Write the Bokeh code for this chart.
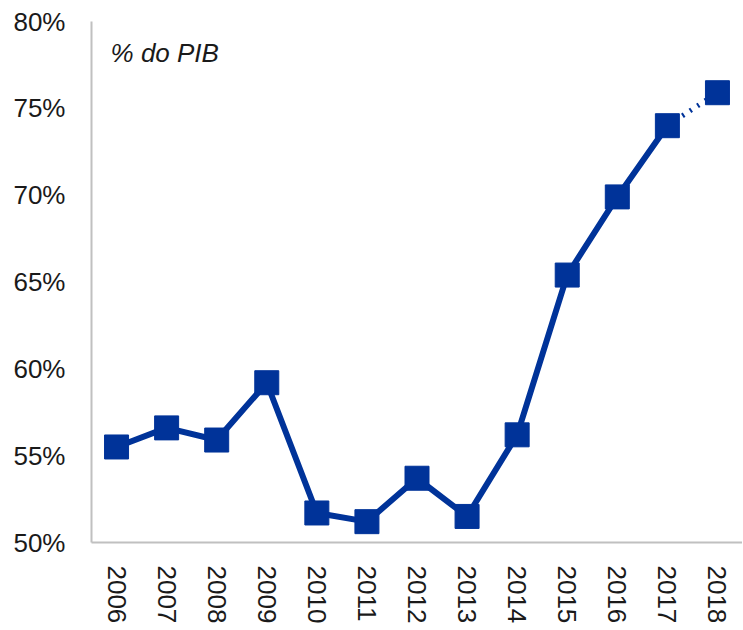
from bokeh.plotting import figure
from bokeh.models import FactorRange, FixedTicker, PrintfTickFormatter, Range1d
from bokeh.core.properties import value
from bokeh.embed import file_html
from bokeh.resources import INLINE

years = ["2006", "2007", "2008", "2009", "2010", "2011", "2012",
         "2013", "2014", "2015", "2016", "2017", "2018"]
debt = [55.5, 56.6, 55.9, 59.2, 51.7, 51.2, 53.7, 51.5, 56.2, 65.4, 69.9, 74.0, 75.9]
y_ticks = [50, 55, 60, 65, 70, 75, 80]
unit_label = "% do PIB"

BLUE = "#003399"
FONT = "Liberation Sans"

p = figure(x_range=FactorRange(factors=years, range_padding=0),
           y_range=Range1d(50, 80),
           width=742, height=629, output_backend="svg", toolbar_location=None,
           min_border_left=91, min_border_top=21, min_border_right=0, min_border_bottom=87)
p.outline_line_color = None
p.xgrid.grid_line_color = None
p.ygrid.grid_line_color = None
p.background_fill_color = "white"
p.border_fill_color = "white"

# solid part (2006-2017)
p.line(years[:-1], debt[:-1], line_color=BLUE, line_width=6)
# projected part (2017-2018) dotted
p.line(years[-2:], debt[-2:], line_color=BLUE, line_width=5, line_dash="2 7")
p.scatter(years, debt, marker="square", size=24, fill_color=BLUE, line_color=BLUE)

p.text(x=[years[0]], y=[78.2], text=[unit_label], x_offset=-6,
       text_font=value(FONT), text_font_size="26px", text_font_style="italic",
       text_color="#1a1a1a", text_align="left", text_baseline="middle")

for ax in (p.xaxis[0], p.yaxis[0]):
    ax.axis_line_color = "#c0c0c0"
    ax.axis_line_width = 2
    ax.major_tick_line_color = None
    ax.minor_tick_line_color = None
    ax.major_label_text_font = FONT
    ax.major_label_text_font_size = "26px"
    ax.major_label_text_color = "#1a1a1a"

p.yaxis.ticker = FixedTicker(ticks=y_ticks)
p.yaxis.formatter = PrintfTickFormatter(format="%d%%")
p.yaxis.major_label_standoff = 20
p.xaxis.major_label_orientation = -1.5708
p.xaxis.major_label_standoff = 17

open("out.html", "w").write(file_html(p, INLINE))
